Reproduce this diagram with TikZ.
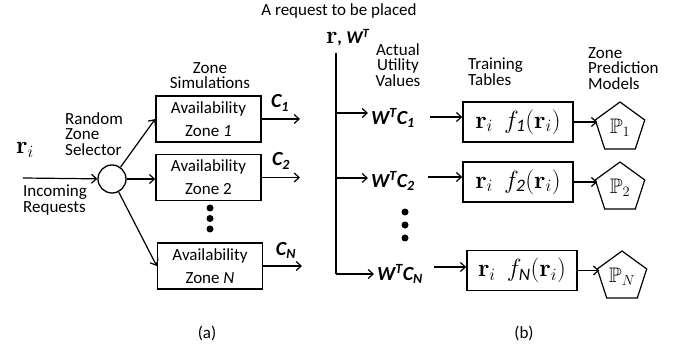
\documentclass[tikz,border=0pt]{standalone}
\usepackage{amsmath,amssymb}
\usepackage[no-math]{fontspec}
\setmainfont{Carlito}
\usetikzlibrary{arrows.meta,shapes.geometric}
\begin{document}
\begin{tikzpicture}[x=1pt,y=-1pt,
  lbl/.style={font=\fontsize{17}{15.5}\selectfont, inner sep=0pt},
  zbox/.style={draw, line width=1.5pt, minimum width=105pt, minimum height=46pt, align=center, font=\fontsize{17}{23}\selectfont, inner sep=0pt},
  tbox/.style={draw, line width=1.5pt, minimum width=110pt, minimum height=40pt, font=\fontsize{25}{25}\selectfont, inner sep=0pt},
  pent/.style={draw, line width=1.2pt, regular polygon, regular polygon sides=5, minimum size=52pt, inner sep=0pt, font=\fontsize{21}{21}\selectfont},
  arr/.style={-{Straight Barb[length=5pt,width=9pt,line width=1.2pt]}, line width=1.2pt},
  wlab/.style={font=\fontsize{20}{20}\selectfont\bfseries\itshape, inner sep=3pt},
  bigdot/.style={circle, fill, inner sep=0pt, minimum size=7pt}
]
\useasboundingbox (0,0) rectangle (683,347);

\node[lbl] (title) at (339,11) {A request to be placed};

% ---------- (a)
\node[font=\fontsize{25}{25}\selectfont, inner sep=0pt] (ri) at (25,150) {$\mathbf{r}_i$};
\coordinate (in) at (23,178);
\node[draw, circle, line width=1.3pt, minimum size=28pt, inner sep=0pt] (sel) at (112,179) {};
\node[lbl, align=left, anchor=north west] (inc) at (23,185) {Incoming\\Requests};
\node[lbl, align=left, anchor=north west] (rzs) at (65,112) {Random\\Zone\\Selector};
\node[lbl, align=center, anchor=north] (zs) at (210,62) {Zone\\Simulations};

\node[zbox] (b1) at (208.5,119) {Availability\\Zone \textit{1}};
\node[zbox] (b2) at (208.5,177.5) {Availability\\Zone 2};
\node[zbox] (bN) at (210,266) {Availability\\Zone \textit{N}};

\node[bigdot] (da1) at (210,208) {};
\node[bigdot] (da2) at (210,218.5) {};
\node[bigdot] (da3) at (210,229) {};

\draw[arr] (in) -- (sel);
\draw[arr] (sel) -- (b1.west);
\draw[arr] (sel) -- (sel -| b2.west);
\draw[arr] (sel) -- (bN.west);

\coordinate (o1) at (300,119);
\coordinate (o2) at (300,177.5);
\coordinate (oN) at (302,266);
\draw[arr] (b1.east) -- (o1);
\draw[arr] (b2.east) -- (o2);
\draw[arr] (bN.east) -- (oN);
\node[wlab] (c1) at (280,103) {C$_{\text{1}}$};
\node[wlab] (c2) at (281,161) {C$_{\text{2}}$};
\node[wlab] (cN) at (286,250) {C$_{\text{N}}$};

\node[lbl] (la) at (207,333) {(a)};

% ---------- (b)
\node[inner sep=0pt, anchor=west] (rw) at (326,38) {{\fontsize{25}{25}\selectfont$\mathbf{r}$}{\fontsize{18}{18}\selectfont\bfseries\itshape, W$^{\text{T}}$}};
\coordinate (vt) at (336,53);
\node[lbl, align=center, anchor=north] (auv) at (398,43) {Actual\\Utility\\Values};
\node[lbl, align=left, anchor=north west] (tt) at (468,58) {Training\\Tables};
\node[lbl, align=left, anchor=north west] (zpm) at (588,47) {Zone\\Prediction\\Models};

\node[wlab, anchor=west] (w1) at (368,118) {W$^{\text{T}}$C$_{\text{1}}$};
\node[wlab, anchor=west] (w2) at (368,181) {W$^{\text{T}}$C$_{\text{2}}$};
\node[wlab, anchor=west] (wN) at (374,274) {W$^{\text{T}}$C$_{\text{N}}$};

\coordinate (br1) at (336,113);
\coordinate (br2) at (336,178);
\coordinate (brN) at (336,274);
\draw[line width=1.2pt] (vt) -- (brN);
\draw[arr] (br1) -- (br1 -| w1.west);
\draw[arr] (br2) -- (br2 -| w2.west);
\draw[arr] (brN) -- (brN -| wN.west);

\node[bigdot] (db1) at (405,212) {};
\node[bigdot] (db2) at (405,225) {};
\node[bigdot] (db3) at (405,238) {};

\node[tbox] (t1) at (518,122) {$\mathbf{r}_i\;\, f_{\text{\itshape 1}}(\mathbf{r}_i)$};
\node[tbox] (t2) at (518,182) {$\mathbf{r}_i\;\, f_{\text{\itshape 2}}(\mathbf{r}_i)$};
\node[tbox] (tN) at (522,270.5) {$\mathbf{r}_i\;\, f_{\text{\itshape N}}(\mathbf{r}_i)$};

\coordinate (s1) at (430,117);
\coordinate (s2) at (428,177);
\coordinate (sN) at (434,267);
\draw[arr] (s1) -- (s1 -| t1.west);
\draw[arr] (s2) -- (s2 -| t2.west);
\draw[arr] (sN) -- (sN -| tN.west);

\node[pent] (p1) at (620,128) {$\mathbb{P}_1$};
\node[pent] (p2) at (620,188) {$\mathbb{P}_2$};
\node[pent] (pN) at (622,277) {$\mathbb{P}_N$};

\draw[arr] (t1.east) -- (t1.east -| p1.west);
\draw[arr] (t2.east) -- (t2.east -| p2.west);
\draw[arr] (tN.east) -- (tN.east -| pN.west);

\node[lbl] (lb) at (524,333) {(b)};
\end{tikzpicture}
\end{document}
